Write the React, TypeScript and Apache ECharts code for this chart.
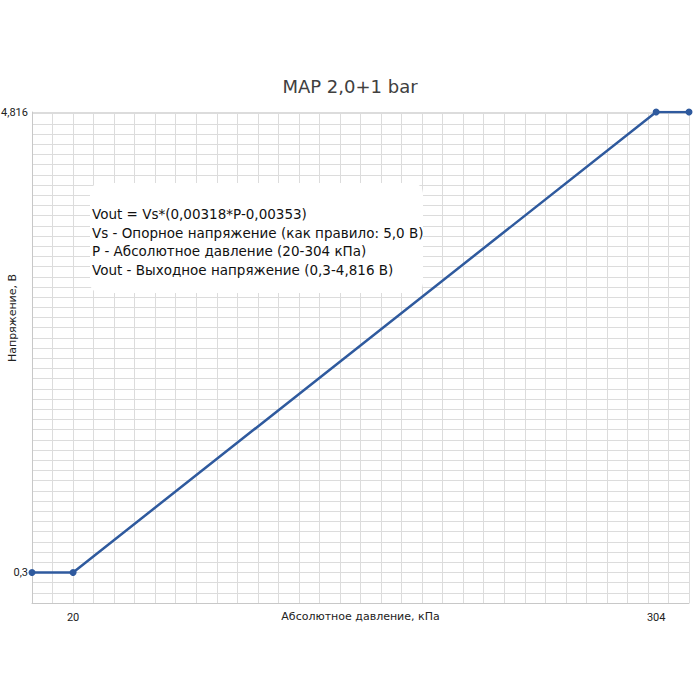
import React, { useEffect, useRef } from "react";
import * as echarts from "echarts";

const pressureKPa = [0, 20, 304, 320];
const voltageV = [0.3, 0.3, 4.816, 4.816];
const xLabelValues = [20, 304];
const yLabelValues = [0.3, 4.816];
const titleText = "MAP 2,0+1 bar";
const xAxisName = "Абсолютное давление, кПа";
const yAxisName = "Напряжение, В";
const noteLines = [
  "Vout = Vs*(0,00318*P-0,00353)",
  "Vs - Опорное напряжение (как правило: 5,0 В)",
  "P - Абсолютное давление (20-304 кПа)",
  "Vout - Выходное напряжение (0,3-4,816 В)",
];

const FONT = "'DejaVu Sans', sans-serif";
const LABEL_FONT = "Roboto, 'Liberation Sans', sans-serif";

export default function App() {
  const ref = useRef<HTMLDivElement>(null);
  useEffect(() => {
    if (!ref.current) return;
    const chart = echarts.init(ref.current, null, { renderer: "svg" });
    const fmt = (v: number) => String(v).replace(".", ",");
    chart.setOption({
      animation: false,
      backgroundColor: "#ffffff",
      title: {
        text: titleText,
        left: "center",
        top: 72,
        textStyle: { fontFamily: FONT, fontSize: 18, fontWeight: "normal", color: "#404040" },
      },
      grid: { left: 32, right: 11, top: 112, bottom: 97, containLabel: false, outerBoundsMode: "none" },
      xAxis: {
        type: "value",
        min: 0,
        max: 320,
        interval: 10,
        name: xAxisName,
        nameLocation: "middle",
        nameGap: 8,
        nameMoveOverlap: false,
        nameTextStyle: { fontFamily: FONT, fontSize: 11, color: "#222", verticalAlign: "top" },
        axisLine: { show: true, lineStyle: { color: "#c8c8c8", width: 1 } },
        axisTick: { show: false },
        splitLine: { show: true, lineStyle: { color: "#dcdcdc", width: 1 } },
        axisLabel: {
          customValues: xLabelValues,
          formatter: fmt,
          margin: 9,
          fontFamily: LABEL_FONT,
          fontSize: 11,
          color: "#222",
        },
      },
      yAxis: {
        type: "value",
        min: 0,
        max: 4.816,
        interval: 0.1,
        axisLine: { show: true, lineStyle: { color: "#c8c8c8", width: 1 } },
        axisTick: { show: false },
        splitLine: { show: true, lineStyle: { color: "#dcdcdc", width: 1 } },
        axisLabel: {
          customValues: yLabelValues,
          formatter: fmt,
          margin: 4,
          fontFamily: LABEL_FONT,
          fontSize: 11,
          color: "#222",
        },
      },
      graphic: [
        {
          type: "text",
          x: 12,
          y: 318,
          rotation: Math.PI / 2,
          z: 20,
          style: {
            text: yAxisName,
            fontFamily: FONT,
            fontSize: 11,
            fill: "#222",
            align: "center",
            verticalAlign: "middle",
          },
        },
        {
          type: "rect",
          z: 10,
          shape: { x: 90, y: 183, width: 333, height: 110, r: 10 },
          style: { fill: "#ffffff" },
        },
        ...noteLines.map((t, i) => ({
          type: "text",
          x: 92,
          y: 214 + i * 18.7,
          z: 11,
          style: {
            text: t,
            fontFamily: FONT,
            fontSize: 13.5,
            fill: "#111",
            align: "left",
            verticalAlign: "middle",
          },
        })),
      ],
      series: [
        {
          type: "line",
          data: pressureKPa.map((p, i) => [p, voltageV[i]]),
          symbol: "circle",
          symbolSize: 7,
          lineStyle: { color: "#2f5a9e", width: 2.5 },
          itemStyle: { color: "#2f5a9e" },
          z: 5,
        },
      ],
    });
    return () => chart.dispose();
  }, []);
  return <div ref={ref} style={{ width: 700, height: 700, position: "absolute", left: 0, top: 0 }} />;
}
